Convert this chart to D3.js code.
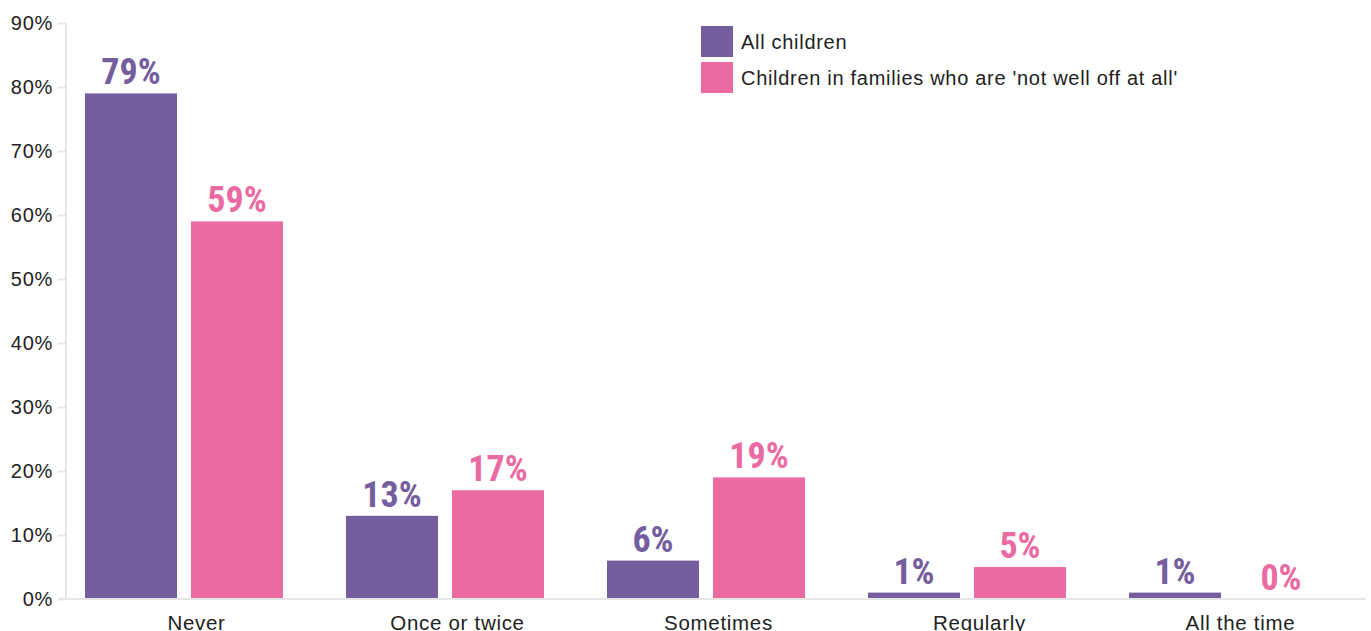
<!DOCTYPE html>
<html><head><meta charset="utf-8">
<script src="https://cdn.jsdelivr.net/npm/d3@7"></script>
<style>
body{margin:0;background:#fff;}
svg{display:block;}
.tick text{font-family:"Liberation Sans",Arial,sans-serif;}
</style></head>
<body>
<svg id="c" width="1371" height="631"></svg>
<script>
const categories = ["Never","Once or twice","Sometimes","Regularly","All the time"];
const seriesNames = ["All children","Children in families who are 'not well off at all'"];
const allChildren = [79,13,6,1,1];
const notWellOff = [59,17,19,5,0];
const yTicks = [0,10,20,30,40,50,60,70,80,90];
const colors = ["#755e9e","#eb6aa2"];

const svg = d3.select("#c");
const y = d3.scaleLinear().domain([0,90]).range([599,23]);
const x0 = d3.scaleBand().domain(categories).range([53.5,1358.5]).paddingInner(0.2414).paddingOuter(0.1207);
const x1 = d3.scaleBand().domain([0,1]).range([0,x0.bandwidth()]).paddingInner(0.132);
const xa = d3.scaleBand().domain(categories).range([66,1371]);

// y axis
const yAxis = svg.append("g").attr("transform","translate(66,0)")
  .call(d3.axisLeft(y).tickValues(yTicks).tickFormat(d=>d+"%").tickSize(8).tickPadding(5));
yAxis.select(".domain").attr("stroke","#e6e6e6").attr("stroke-width",2).attr("d","M0,599V23");
yAxis.selectAll(".tick line").attr("stroke","#e6e6e6").attr("stroke-width",2);
yAxis.selectAll(".tick text").attr("font-size",20).attr("fill","#222").attr("letter-spacing","0.7");

// bars
const data = categories.map((c,i)=>({c, v:[allChildren[i], notWellOff[i]]}));
const g = svg.append("g");
data.forEach(d=>{
  d.v.forEach((v,j)=>{
    const bx = x0(d.c)+x1(j);
    g.append("rect").attr("x",bx).attr("width",x1.bandwidth())
      .attr("y",y(v)).attr("height",Math.max(y(0)-y(v), v===0?1:0))
      .attr("fill",colors[j]).attr("opacity", v===0?0.3:1);
    g.append("text").attr("x",bx+x1.bandwidth()/2).attr("y",y(v)-9)
      .attr("text-anchor","middle")
      .attr("font-family","'Liberation Sans Narrow','Roboto Condensed','Liberation Sans',sans-serif")
      .attr("font-weight","bold").attr("font-size",36).attr("fill",colors[j])
      .text(v+"%");
  });
});

// x axis
const xAxis = svg.append("g").attr("transform","translate(0,599)")
  .call(d3.axisBottom(xa).tickSize(0).tickPadding(16));
xAxis.select(".domain").attr("stroke","#e6e6e6").attr("stroke-width",2).attr("d","M58,0H1366");
xAxis.selectAll(".tick text").attr("font-size",20.5).attr("fill","#222").attr("letter-spacing","0.7");

// legend
const lg = svg.append("g").attr("transform","translate(701,26)");
seriesNames.forEach((n,i)=>{
  lg.append("rect").attr("x",0).attr("y",i*36).attr("width",32).attr("height",31).attr("fill",colors[i]);
  lg.append("text").attr("x",40).attr("y",i*36+23)
    .attr("font-family","'Liberation Sans',Arial,sans-serif").attr("font-size",20).attr("fill","#222")
    .attr("letter-spacing","0.7")
    .text(n);
});
</script>
</body></html>
